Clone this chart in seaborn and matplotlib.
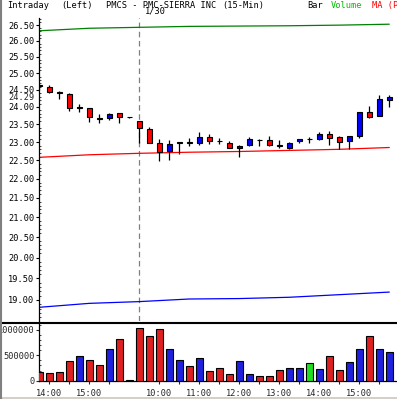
import numpy as np
import pandas as pd
import matplotlib
matplotlib.use('Agg')
import matplotlib.pyplot as plt
from matplotlib.ticker import FixedLocator, FormatStrFormatter, MultipleLocator, NullFormatter
from matplotlib.lines import Line2D
from matplotlib.patches import Rectangle
import seaborn as sns

sns.set_style('white')
plt.rcParams['font.family'] = ['DejaVu Sans Mono']
plt.rcParams['font.size'] = 6.2
plt.rcParams['lines.scale_dashes'] = False

# 15-min bars, 1/29 13:45 .. 1/30 15:45
opens = [24.66, 24.59, 24.45, 24.38, 23.97, 23.96, 23.68, 23.67, 23.82, 23.70,
         23.59, 23.38, 22.97, 22.75, 22.97, 23.00, 22.97, 23.15, 23.04, 22.97,
         22.84, 22.93, 23.07, 23.06, 22.91, 22.84, 23.03, 23.08, 23.08, 23.22,
         23.13, 23.04, 23.17, 23.84, 23.74, 24.21]
highs = [24.68, 24.66, 24.46, 24.42, 24.10, 23.96, 23.81, 23.82, 23.82, 23.71,
         23.60, 23.43, 23.10, 23.06, 23.01, 23.12, 23.29, 23.24, 23.12, 23.03,
         22.91, 23.15, 23.08, 23.17, 23.06, 23.01, 23.10, 23.15, 23.29, 23.31,
         23.17, 23.17, 23.84, 24.03, 24.35, 24.35]
lows = [24.50, 24.40, 24.22, 23.88, 23.86, 23.57, 23.55, 23.62, 23.53, 23.67,
        22.98, 22.97, 22.49, 22.52, 22.66, 22.90, 22.93, 22.94, 22.94, 22.83,
        22.59, 22.90, 22.88, 22.88, 22.83, 22.80, 22.98, 22.98, 23.05, 22.93,
        22.81, 22.81, 23.12, 23.69, 23.73, 24.01]
closes = [24.62, 24.43, 24.42, 23.97, 23.99, 23.72, 23.66, 23.81, 23.72, 23.70,
          23.40, 22.98, 22.73, 22.94, 23.00, 22.98, 23.15, 23.03, 23.02, 22.85,
          22.90, 23.08, 23.05, 22.91, 22.89, 22.98, 23.08, 23.08, 23.24, 23.12,
          23.01, 23.17, 23.84, 23.72, 24.22, 24.29]
volumes = [165e3, 145e3, 165e3, 380e3, 480e3, 400e3, 300e3, 620e3, 815e3, 10e3,
           1030e3, 875e3, 1010e3, 620e3, 400e3, 285e3, 440e3, 190e3, 250e3, 130e3,
           390e3, 130e3, 90e3, 90e3, 210e3, 250e3, 250e3, 340e3, 230e3, 490e3,
           210e3, 370e3, 625e3, 880e3, 625e3, 565e3]
vol_colors = ['r', 'r', 'r', 'r', 'b', 'r', 'r', 'b', 'r', 'k',
              'r', 'r', 'r', 'b', 'b', 'r', 'b', 'r', 'r', 'r',
              'b', 'b', 'r', 'r', 'r', 'b', 'b', 'g', 'b', 'r',
              'r', 'b', 'b', 'r', 'b', 'b']

# moving averages read at every 5th bar
ma_idx = [0, 5, 10, 15, 20, 25, 30, 35]
ma_green = [26.32, 26.40, 26.43, 26.46, 26.47, 26.48, 26.50, 26.53]
ma_red = [22.58, 22.65, 22.69, 22.72, 22.74, 22.77, 22.80, 22.85]
ma_blue = [18.83, 18.92, 18.96, 19.02, 19.03, 19.06, 19.12, 19.18]

price_ticks = [19.0, 19.5, 20.0, 20.5, 21.0, 21.5, 22.0, 22.5, 23.0, 23.5,
               24.0, 24.5, 25.0, 25.5, 26.0, 26.5]
vol_ticks = [0, 500000, 1000000]
time_ticks = [1, 5, 12, 16, 20, 24, 28, 32]
time_labels = ['14:00', '15:00', '10:00', '11:00', '12:00', '13:00', '14:00', '15:00']
half_ticks = [3, 7, 14, 18, 22, 26, 30, 34]
day_break = 10

W, H = 397, 399
fig = plt.figure(figsize=(W / 100, H / 100), dpi=100)


def box(x0, y0, x1, y1):
    return [x0 / W, 1 - y1 / H, (x1 - x0) / W, (y1 - y0) / H]


ax = fig.add_axes(box(38.5, 18, 397, 321))
axv = fig.add_axes(box(38.5, 323.5, 397, 380.7))

idx = np.arange(len(opens))
o = np.array(opens)
c = np.array(closes)
body_col = np.where(c > o, '#0000FF', np.where(c < o, '#FF0000', 'black'))

ax.axvline(day_break, color='#808080', lw=0.9, ls=(0, (4.0, 2.6)), zorder=1)
sns.lineplot(x=ma_idx, y=ma_green, ax=ax, color='#008000', lw=0.9, zorder=2)
sns.lineplot(x=ma_idx, y=ma_red, ax=ax, color='#FF0000', lw=0.9, zorder=2)
sns.lineplot(x=ma_idx, y=ma_blue, ax=ax, color='#0000FF', lw=0.9, zorder=2)
ax.vlines(idx, lows, highs, color='black', lw=0.9, zorder=3)
ax.bar(idx, np.maximum(np.abs(c - o), 0.004), bottom=np.minimum(o, c), width=0.45,
       color=body_col, edgecolor='black', linewidth=0.8, zorder=4)

ax.set_yscale('log')
ax.set_ylim(18.52, 26.73)
ax.set_xlim(-0.08, 35.77)
ax.yaxis.set_major_locator(FixedLocator(price_ticks))
ax.yaxis.set_major_formatter(FormatStrFormatter('%.2f'))
ax.yaxis.set_minor_locator(MultipleLocator(0.1))
ax.yaxis.set_minor_formatter(NullFormatter())
ax.tick_params(axis='y', which='major', left=True, direction='out', length=2.2,
               width=0.8, pad=0.6, colors='black')
ax.tick_params(axis='y', which='minor', left=True, direction='in', length=1.2, width=0.6)
ax.set_xticks([])
for s in ['top', 'right', 'bottom']:
    ax.spines[s].set_visible(False)
ax.spines['left'].set_color('black')
ax.spines['left'].set_linewidth(0.9)
ax.annotate(f'{closes[-1]:.2f}', xy=(0, closes[-1]), xycoords=('axes fraction', 'data'),
            xytext=(-2.8, 0), textcoords='offset points', ha='right', va='center')

df = pd.DataFrame({'bar': idx, 'volume': volumes, 'col': vol_colors})
sns.barplot(data=df, x='bar', y='volume', hue='col', dodge=False, width=0.7,
            palette={'r': '#FF0000', 'b': '#0000FF', 'g': '#00FF00', 'k': 'black'},
            edgecolor='black', linewidth=0.8, legend=False, ax=axv, zorder=3)
axv.set_xlim(-0.08, 35.77)
axv.set_ylim(0, 1.128e6)
axv.set_xlabel('')
axv.set_ylabel('')
axv.set_yticks(vol_ticks)
axv.set_yticklabels([str(v) for v in vol_ticks])
axv.yaxis.set_minor_locator(MultipleLocator(100000))
axv.set_xticks(time_ticks)
axv.set_xticklabels(time_labels)
axv.set_xticks(half_ticks, minor=True)
axv.tick_params(axis='y', which='major', left=True, direction='out', length=2.2,
                width=0.8, pad=0.6)
axv.tick_params(axis='y', which='minor', left=True, direction='in', length=1.2, width=0.6)
axv.tick_params(axis='x', which='both', bottom=True, direction='out', length=2.5,
                width=0.8, pad=3.5)
for s in ['top', 'right']:
    axv.spines[s].set_visible(False)
for s in ['left', 'bottom']:
    axv.spines[s].set_color('black')
    axv.spines[s].set_linewidth(0.9)

# double separator between panels
for yp in [321.7, 323.3]:
    fig.add_artist(Line2D([0, 1], [1 - yp / H] * 2, color='black', lw=0.8))
fig.add_artist(Line2D([0.5 / W] * 2, [0, 1], color='#808080', lw=1.5))
fig.add_artist(Rectangle((0, 0), 1, 2.5 / H, color='#d4d0c8', lw=0))

# header
def head(x, y, s, col='black'):
    fig.text(x / W, 1 - y / H, s, color=col, va='center', ha='left')


head(7, 5.5, 'Intraday')
head(61.5, 5.5, '(Left)')
head(106, 5.5, 'PMCS - PMC-SIERRA INC')
head(222.5, 5.5, '(15-Min)')
head(307, 5.5, 'Bar')
head(330.5, 5.5, 'Volume', '#00C000')
head(372.5, 5.5, 'MA (P', '#FF0000')
head(145, 11.5, '1/30')

fig.savefig('out.png', dpi=100)
